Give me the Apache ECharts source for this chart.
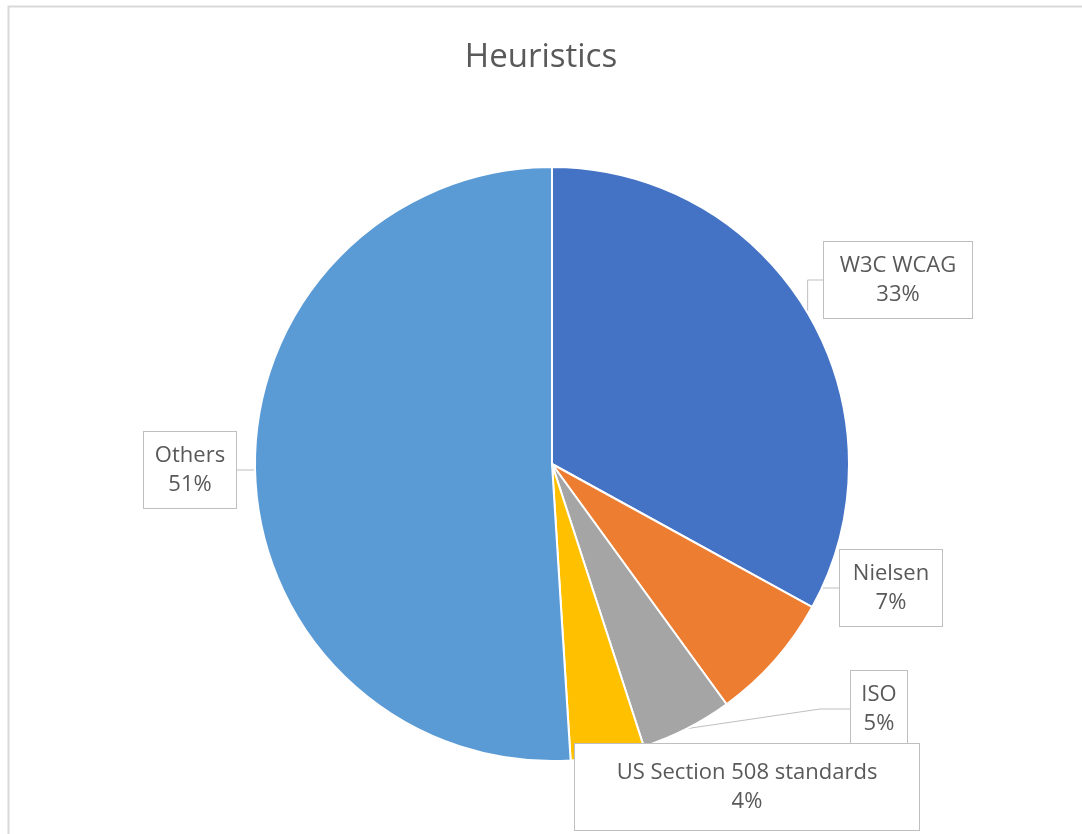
<!DOCTYPE html>
<html>
<head>
<meta charset="utf-8">
<script src="https://cdn.jsdelivr.net/npm/echarts@6/dist/echarts.min.js"></script>
<style>
  html, body { margin: 0; padding: 0; background: #fff; }
  #main { width: 1082px; height: 834px; }
</style>
</head>
<body>
<div id="main"></div>
<script>
var names = ['W3C WCAG', 'Nielsen', 'ISO', 'US Section 508 standards', 'Others'];
var values = [33, 7, 5, 4, 51];
var colors = ['#4472C4', '#ED7D31', '#A5A5A5', '#FFC000', '#5B9BD5'];

// callout boxes: centre point, inner width and side padding
var labelSpots = [
    { x: 898, y: 280, w: 128, p: 10 },
    { x: 891, y: 588, w: 82, p: 10 },
    { x: 879, y: 709, w: 46, p: 5 },
    { x: 747, y: 787, w: 324, p: 10 },
    { x: 190, y: 470, w: 72, p: 10 }
];

var chartDom = document.getElementById('main');
var myChart = echarts.init(chartDom);

var data = names.map(function (n, i) {
    var s = labelSpots[i];
    return {
        name: n,
        value: values[i],
        itemStyle: { color: colors[i] },
        label: {
            width: s.w,
            padding: i === 3 ? [14, s.p, 14, s.p] : [9, s.p, 9, s.p]
        }
    };
});

var option = {
    backgroundColor: '#fff',
    animation: false,
    title: {
        text: 'Heuristics',
        left: 'center',
        top: 36,
        textStyle: {
            fontFamily: 'Open Sans',
            fontSize: 33,
            fontWeight: 'normal',
            color: '#595959'
        }
    },
    graphic: [
        {
            type: 'rect',
            shape: { x: 8.5, y: 6.5, width: 1100, height: 860 },
            style: { fill: 'none', stroke: '#d9d9d9', lineWidth: 2 },
            z: 0
        }
    ],
    series: [
        {
            type: 'pie',
            center: [552, 464],
            radius: [0, 297],
            startAngle: 90,
            clockwise: true,
            percentPrecision: 0,
            data: data,
            itemStyle: { borderColor: '#fff', borderWidth: 2 },
            label: {
                show: true,
                position: 'outside',
                formatter: '{b}\n{d}%',
                fontFamily: 'Open Sans',
                fontSize: 22,
                lineHeight: 29,
                color: '#595959',
                align: 'center',
                overflow: 'none',
                backgroundColor: '#fff',
                borderColor: '#bfbfbf',
                borderWidth: 1
            },
            labelLine: {
                show: true,
                lineStyle: { color: '#bfbfbf', width: 1 }
            },
            labelLayout: function (params) {
                var s = labelSpots[params.dataIndex];
                return { x: s.x, y: s.y, align: 'center', verticalAlign: 'middle' };
            }
        }
    ]
};

myChart.setOption(option);
</script>
</body>
</html>
